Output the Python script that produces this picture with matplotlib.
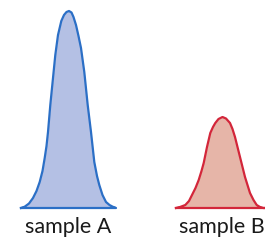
import matplotlib
matplotlib.use("Agg")
import matplotlib.pyplot as plt

# Data (x position, height above baseline)
labels = ["sample A", "sample B"]
label_x = [68, 222]

x_a = [21, 24.7, 29, 33, 36.5, 39.7, 42.5, 44.7, 46.5, 48, 50.3, 53, 55.3, 58, 61.3, 64, 66.5, 69,
       71.5, 73.5, 76, 78.5, 81, 84.3, 87.7, 91, 94.3, 97, 99.3, 102.5, 106, 109.5, 112.7, 116]
h_a = [0, 1.3, 4.5, 10, 17, 26, 37, 50, 62, 76, 103, 130, 153, 173, 187, 193, 196, 197,
       195.5, 191, 183, 172, 160, 136, 103, 76, 46, 32, 23, 13, 6, 3, 1.3, 0]

x_b = [176, 180, 185.3, 189, 192, 195.5, 198.7, 201.5, 203.7, 207, 210.3, 213, 215.3, 218.5, 222.5,
       226, 230, 232.5, 235, 240, 245, 250, 253.5, 256.7, 260, 263.3, 265]
h_b = [0, 1, 3, 7, 13, 20, 28, 37, 45, 61, 75, 81, 85, 89, 91,
       89.5, 85, 79, 71, 51, 31, 15, 8, 3, 1, 0, 0]

fill_colors = ["#b4c0e4", "#e6b5a8"]
edge_colors = ["#2b6fc6", "#d3263a"]

fig = plt.figure(figsize=(2.65, 2.43), dpi=100)
ax = fig.add_axes([0, 0, 1, 1])
ax.set_xlim(0, 265)
ax.set_ylim(-35, 208)
ax.axis("off")

for xs, hs, fc, ec in [(x_a, h_a, fill_colors[0], edge_colors[0]),
                       (x_b, h_b, fill_colors[1], edge_colors[1])]:
    ax.fill_between(xs, 0, hs, color=fc, lw=0)
    ax.plot(xs + [xs[0]], hs + [0], color=ec, lw=1.6, solid_joinstyle="round")

for lx, lab in zip(label_x, labels):
    ax.text(lx, -25, lab, ha="center", va="baseline", fontsize=15.5,
            family=["Lato", "DejaVu Sans"], color="#1a1a1a")

fig.savefig("out.png", dpi=100)
